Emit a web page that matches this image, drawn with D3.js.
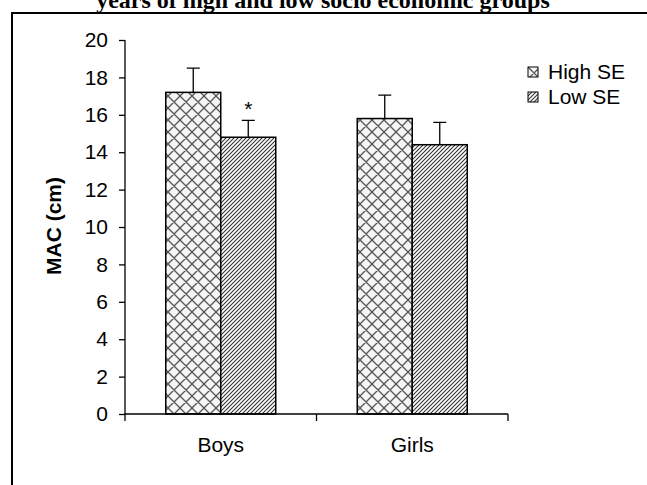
<!DOCTYPE html>
<html>
<head>
<meta charset="utf-8">
<script src="https://cdn.jsdelivr.net/npm/d3@7"></script>
<style>
  body { margin: 0; background: #fff; }
  text { font-family: Arial, "Liberation Sans", sans-serif; }
</style>
</head>
<body>
<div id="chart"></div>
<script>
/* MAC by sex and socio economic group */

var groups = ["Boys", "Girls"];
var seriesNames = ["High SE", "Low SE"];
var highValues = [17.2, 15.8];
var lowValues = [14.8, 14.4];
var highErr = [1.3, 1.25];
var lowErr = [0.9, 1.2];
var yTicks = [0, 2, 4, 6, 8, 10, 12, 14, 16, 18, 20];
var highMarks = ["", ""];
var lowMarks = ["*", ""];

var w = 647, h = 485;
var svg = d3.select("#chart").append("svg")
    .attr("width", w)
    .attr("height", h);

// Patterns
var defs = svg.append("defs");
var cross = defs.append("pattern")
    .attr("id", "cross")
    .attr("patternUnits", "userSpaceOnUse")
    .attr("width", 12)
    .attr("height", 12);
cross.append("rect").attr("width", 12).attr("height", 12).attr("fill", "#f6f6f6");
cross.append("path").attr("d", "M0,0 L12,12 M12,0 L0,12 M-1,11 L1,13 M11,-1 L13,1 M-1,1 L1,-1 M11,13 L13,11")
    .attr("stroke", "#555").attr("stroke-width", 1.3);

var diag = defs.append("pattern")
    .attr("id", "diag")
    .attr("patternUnits", "userSpaceOnUse")
    .attr("width", 4)
    .attr("height", 4);
diag.append("rect").attr("width", 4).attr("height", 4).attr("fill", "#fff");
diag.append("path").attr("d", "M-1,1 L1,-1 M0,4 L4,0 M3,5 L5,3")
    .attr("stroke", "#333").attr("stroke-width", 1.1);

// Title (cut off at top)
svg.append("text")
    .attr("x", 323)
    .attr("y", 8)
    .attr("text-anchor", "middle")
    .style("font-family", "'Liberation Serif', 'Times New Roman', serif")
    .style("font-weight", "bold")
    .style("font-size", "24px")
    .text("years of high and low socio economic groups");

// Frame
svg.append("path")
    .attr("d", "M12," + h + " L12,13 L" + w + ",13")
    .attr("fill", "none")
    .attr("stroke", "#000")
    .attr("stroke-width", 2);

var plotLeft = 125, plotRight = 508, plotTop = 40, plotBottom = 414;

var x = d3.scaleBand().domain(groups).range([plotLeft, plotRight]);
var y = d3.scaleLinear().domain([0, 20]).range([plotBottom, plotTop]);
var barW = 55;

var rows = groups.map(function (g, i) {
    return [
        { group: g, value: highValues[i], err: highErr[i], mark: highMarks[i], offset: -barW, fill: "url(#cross)" },
        { group: g, value: lowValues[i], err: lowErr[i], mark: lowMarks[i], offset: 0, fill: "url(#diag)" }
    ];
});
var bars = [].concat.apply([], rows);

function barX(d) {
    return x(d.group) + x.bandwidth() / 2 + d.offset;
}

// Error bars (upper only)
svg.selectAll(".err")
    .data(bars)
    .enter()
    .append("path")
    .attr("class", "err")
    .attr("d", function (d) {
        var m = barX(d) + barW / 2;
        var yt = y(d.value + d.err);
        return "M" + m + "," + y(d.value) + " L" + m + "," + yt +
            " M" + (m - 6.5) + "," + yt + " L" + (m + 6.5) + "," + yt;
    })
    .attr("stroke", "#000")
    .attr("stroke-width", 1.3)
    .attr("fill", "none");

svg.selectAll(".bar")
    .data(bars)
    .enter()
    .append("rect")
    .attr("class", "bar")
    .attr("x", barX)
    .attr("y", function (d) { return y(d.value); })
    .attr("width", barW)
    .attr("height", function (d) { return plotBottom - y(d.value); })
    .attr("fill", function (d) { return d.fill; })
    .attr("stroke", "#000")
    .attr("stroke-width", 1.5);

svg.selectAll(".mark")
    .data(bars.filter(function (d) { return d.mark; }))
    .enter()
    .append("text")
    .attr("class", "mark")
    .attr("x", function (d) { return barX(d) + barW / 2; })
    .attr("y", function (d) { return y(d.value + d.err) - 4; })
    .attr("text-anchor", "middle")
    .style("font-size", "21px")
    .text(function (d) { return d.mark; });

// Y axis
var yAxis = svg.append("g")
    .attr("transform", "translate(" + plotLeft + ",0)")
    .call(d3.axisLeft(y).tickValues(yTicks).tickSize(6).tickPadding(11).tickFormat(d3.format("d")));
yAxis.selectAll("text").style("font-size", "21px").attr("fill", "#000");
yAxis.selectAll("line, path").attr("stroke", "#000").attr("stroke-width", 1.3);
yAxis.select(".domain").attr("d", "M0," + plotTop + "V" + plotBottom);

// X axis
var xAxis = svg.append("g")
    .attr("transform", "translate(0," + plotBottom + ")")
    .call(d3.axisBottom(x).tickSize(0).tickPadding(23));
xAxis.selectAll("text").style("font-size", "21px").attr("fill", "#000");
xAxis.select(".domain").attr("d", "M" + plotLeft + ",0H" + plotRight).attr("stroke", "#000").attr("stroke-width", 1.5);
xAxis.selectAll(".sep")
    .data([plotLeft, x("Girls"), plotRight])
    .enter()
    .append("line")
    .attr("class", "sep")
    .attr("x1", function (d) { return d; })
    .attr("x2", function (d) { return d; })
    .attr("y1", 0)
    .attr("y2", 7)
    .attr("stroke", "#000")
    .attr("stroke-width", 1.3);

// Y label
svg.append("text")
    .attr("transform", "translate(61,226) rotate(-90)")
    .attr("text-anchor", "middle")
    .style("font-size", "21px")
    .style("font-weight", "bold")
    .text("MAC (cm)");

// Legend
var legend = svg.selectAll(".legend")
    .data(seriesNames)
    .enter()
    .append("g")
    .attr("class", "legend")
    .attr("transform", function (d, i) { return "translate(528," + (67 + i * 25) + ")"; });
legend.append("rect")
    .attr("width", 10)
    .attr("height", 10)
    .attr("fill", function (d, i) { return i === 0 ? "url(#cross)" : "url(#diag)"; })
    .attr("stroke", "#000")
    .attr("stroke-width", 1);
legend.append("text")
    .attr("x", 20)
    .attr("y", 12)
    .style("font-size", "21px")
    .text(function (d) { return d; });
</script>
</body>
</html>
